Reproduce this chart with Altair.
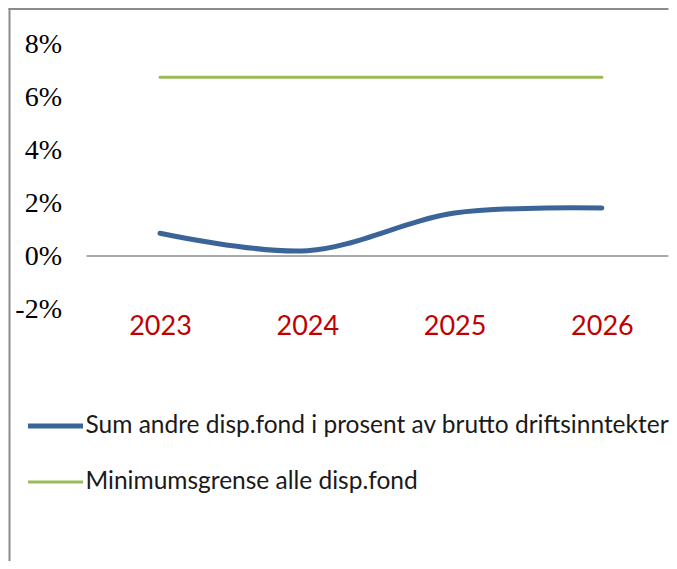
import altair as alt
import pandas as pd

years = ["2023", "2024", "2025", "2026"]
series_names = [
    "Sum andre disp.fond i prosent av brutto driftsinntekter",
    "Minimumsgrense alle disp.fond",
]
fond_values = [0.86, 0.2, 1.62, 1.81]
minimum_values = [6.75, 6.75, 6.75, 6.75]
y_ticks = [-2, 0, 2, 4, 6, 8]

rows = []
for y, v in zip(years, fond_values):
    rows.append({"year": y, "series": series_names[0], "value": v})
for y, v in zip(years, minimum_values):
    rows.append({"year": y, "series": series_names[1], "value": v})
df = pd.DataFrame(rows)

one = pd.DataFrame({"z": [0]})

frame_top = alt.Chart(one).mark_rule(stroke="#8c8c8c", strokeWidth=2).encode(
    x=alt.value(-78), x2=alt.value(582), y=alt.value(-35)
)
frame_left = alt.Chart(one).mark_rule(stroke="#8c8c8c", strokeWidth=2).encode(
    x=alt.value(-77), y=alt.value(-36), y2=alt.value(517)
)

zero = alt.Chart(one).mark_rule(color="#8c8c8c", strokeWidth=1.5).encode(
    y=alt.datum(0)
)

legend_cfg = dict(
    title=None,
    orient="none",
    legendX=-61,
    legendY=352,
    symbolType="stroke",
    symbolSize=3025,
    labelFont="Lato",
    labelFontSize=24.5,
    labelColor="#1a1a1a",
    labelOffset=0,
    labelLimit=800,
    rowPadding=15,
    padding=0,
)

lines = alt.Chart(df).mark_line(interpolate="catmull-rom", strokeCap="round").encode(
    x=alt.X(
        "year:O",
        sort=years,
        scale=alt.Scale(type="point", padding=0.4756, align=0.5246),
        axis=alt.Axis(
            title=None,
            domain=False,
            ticks=False,
            labelAngle=0,
            labelFont="Lato",
            labelFontSize=27,
            labelColor="#C00000",
            labelPadding=4,
        ),
    ),
    y=alt.Y(
        "value:Q",
        scale=alt.Scale(domain=[-2, 8], nice=False, zero=False),
        axis=alt.Axis(
            title=None,
            values=y_ticks,
            grid=False,
            domain=False,
            ticks=False,
            labelExpr="datum.value + '%'",
            labelFont="Liberation Serif",
            labelFontSize=28,
            labelColor="#000000",
            labelPadding=25,
        ),
    ),
    color=alt.Color(
        "series:N",
        sort=series_names,
        scale=alt.Scale(domain=series_names, range=["#3B6598", "#9BBB59"]),
        legend=alt.Legend(**legend_cfg),
    ),
    strokeWidth=alt.StrokeWidth(
        "series:N",
        sort=series_names,
        scale=alt.Scale(domain=series_names, range=[5, 3]),
        legend=alt.Legend(**legend_cfg),
    ),
)

chart = alt.layer(frame_top, frame_left, zero, lines).properties(
    width=582,
    height=265,
    autosize=alt.AutoSizeParams(type="none"),
    padding={"left": 78.5, "top": 36, "right": 0, "bottom": 252},
).configure_view(stroke=None)

chart.save("out.html", embed_options={"renderer": "svg", "actions": False})
